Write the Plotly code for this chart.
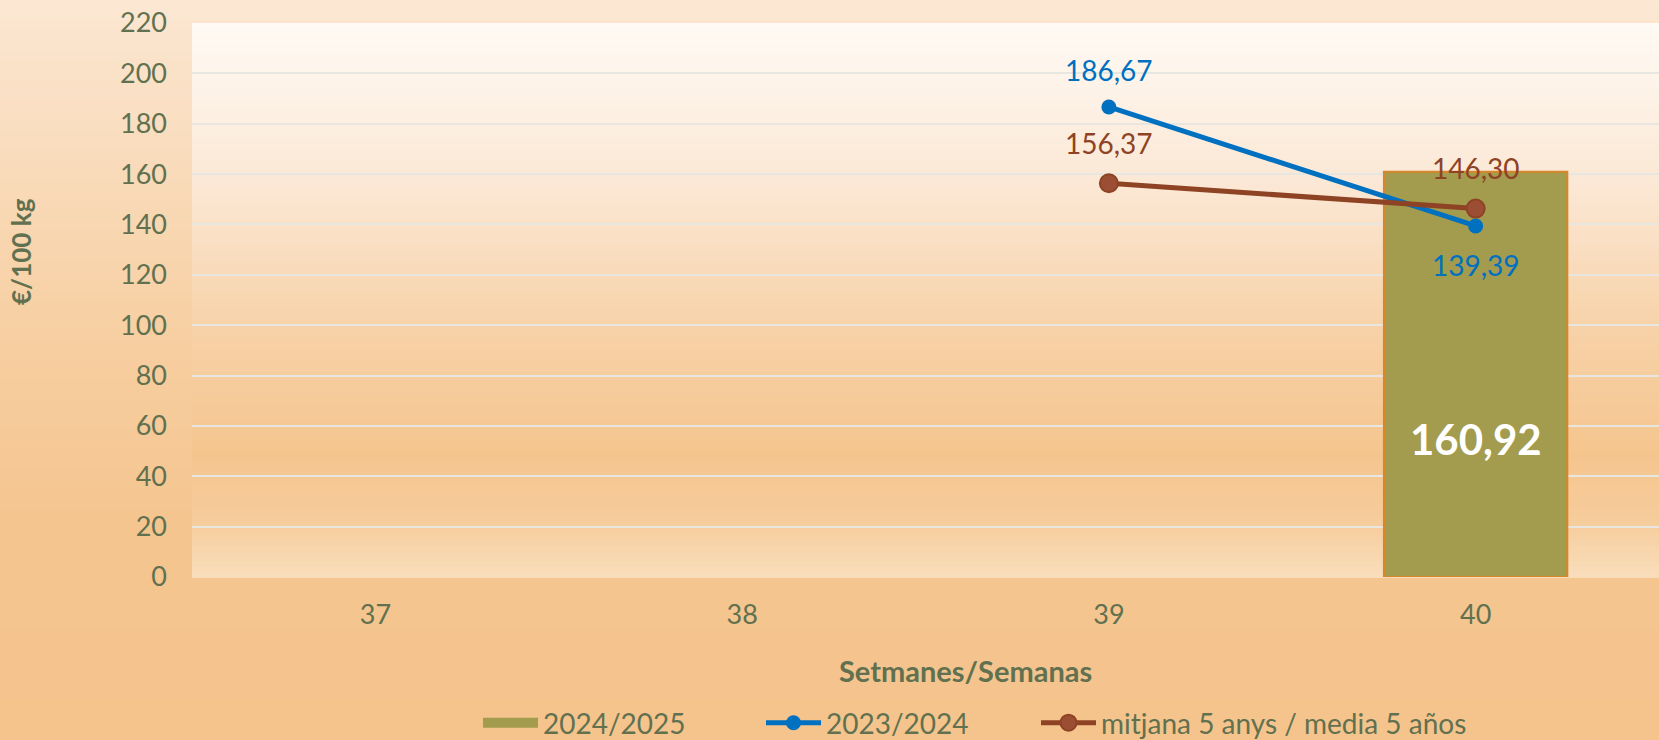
import plotly.graph_objects as go

# ---- data ----
weeks = ["37", "38", "39", "40"]
s_2024_2025 = [None, None, None, 160.92]
s_2023_2024 = [None, None, 186.67, 139.39]
s_mitjana = [None, None, 156.37, 146.30]
y_ticks = list(range(0, 221, 20))

# ---- layout constants ----
W, H = 1659, 740
ML, MR, MT, MB = 192, 0, 23, 163
PW, PH = W - ML - MR, H - MT - MB

TXT = "#617150"
BLUE = "#0070C0"
BROWN = "#8E4324"
OLIVE = "#A39B4D"
FONT = "Lato, 'Open Sans', sans-serif"


def hex2rgb(h):
    h = h.lstrip("#")
    return tuple(int(h[i:i + 2], 16) for i in (0, 2, 4))


def interp(stops, t):
    for (t0, c0), (t1, c1) in zip(stops, stops[1:]):
        if t0 <= t <= t1:
            f = 0 if t1 == t0 else (t - t0) / (t1 - t0)
            a, b = hex2rgb(c0), hex2rgb(c1)
            return "rgb(%d,%d,%d)" % tuple(round(a[i] + (b[i] - a[i]) * f) for i in range(3))
    return stops[-1][1]


def px2x(px):
    return (px - ML) / PW


def px2y(py):
    return (MT + PH - py) / PH


fmt = lambda v: f"{v:.2f}".replace(".", ",")

fig = go.Figure()

fig.add_trace(go.Bar(
    x=weeks, y=s_2024_2025, name="2024/2025", width=0.5, showlegend=False,
    marker=dict(color=OLIVE, line=dict(color="#D9862A", width=2)),
    hoverinfo="skip",
))
# legend entry for the bar series (wide rectangle like the original)
fig.add_trace(go.Scatter(
    x=[None], y=[None], name="2024/2025", mode="lines", legend="legend",
    line=dict(color=OLIVE, width=17),
))
fig.add_trace(go.Scatter(
    x=weeks, y=s_2023_2024, name="2023/2024", mode="lines+markers", legend="legend2",
    line=dict(color=BLUE, width=5),
    marker=dict(color=BLUE, size=15),
))
fig.add_trace(go.Scatter(
    x=weeks, y=s_mitjana, name="mitjana 5 anys / media 5 años", mode="lines+markers",
    legend="legend3",
    line=dict(color=BROWN, width=5),
    marker=dict(color="#9B4E33", size=18, line=dict(color=BROWN, width=2)),
))

annotations = []
# line labels
for vals, color, shifts in ((s_2023_2024, BLUE, {2: 37, 3: -39}), (s_mitjana, BROWN, {2: 40, 3: 41})):
    for i, v in enumerate(vals):
        if v is None:
            continue
        annotations.append(dict(
            x=i, y=v, xref="x", yref="y", text=fmt(v), showarrow=False,
            xanchor="center", yanchor="middle",
            font=dict(family=FONT, size=28, color=color),
            yshift=shifts.get(i, 37),
        ))
# bar label
for i, v in enumerate(s_2024_2025):
    if v is None:
        continue
    annotations.append(dict(
        x=i, y=v * 0.34, xref="x", yref="y", text="<b>" + fmt(v) + "</b>",
        showarrow=False, xanchor="center", yanchor="middle",
        font=dict(family=FONT, size=42, color="white"),
    ))

# axis titles
annotations.append(dict(
    x=px2x(21), y=px2y(252), xref="paper", yref="paper",
    text="<b>€/100 kg</b>", textangle=-90, showarrow=False,
    xanchor="center", yanchor="middle",
    font=dict(family=FONT, size=26, color=TXT),
))
annotations.append(dict(
    x=px2x(965), y=px2y(670), xref="paper", yref="paper",
    text="<b>Setmanes/Semanas</b>", showarrow=False,
    xanchor="center", yanchor="middle",
    font=dict(family=FONT, size=29, color=TXT),
))

# background gradients (paper + plot area) with bands
shapes = []
paper_stops = [(0.0, "#FBE7D3"), (0.45, "#F7CFA2"), (0.7, "#F5C590"), (1.0, "#F5C48D")]
N = 74
y_top = px2y(0)
y_bot = px2y(H)
for k in range(N):
    t = (k + 0.5) / N
    y1 = y_top - (y_top - y_bot) * k / N
    y0 = y_top - (y_top - y_bot) * (k + 1) / N
    shapes.append(dict(type="rect", xref="paper", yref="paper", layer="below",
                       x0=px2x(-2), x1=px2x(W + 2), y0=y0 - 0.003, y1=y1 + 0.001,
                       fillcolor=interp(paper_stops, t), line=dict(width=0)))
plot_stops = [(0.0, "#FFFAF5"), (0.3, "#FBE7D3"), (0.55, "#F7D2A8"), (0.78, "#F5C58E"),
              (0.9, "#F6CC9C"), (1.0, "#F9DEBB")]
N2 = 110
for k in range(N2):
    t = (k + 0.5) / N2
    y1 = 1 - k / N2
    y0 = 1 - (k + 1) / N2
    shapes.append(dict(type="rect", xref="paper", yref="paper", layer="below",
                       x0=0, x1=px2x(W + 2), y0=y0 - 0.002, y1=y1,
                       fillcolor=interp(plot_stops, t), line=dict(width=0)))

leg_common = dict(orientation="h", xanchor="left", yanchor="middle",
                  y=px2y(723), font=dict(family=FONT, size=28, color=TXT),
                  bgcolor="rgba(0,0,0,0)", itemwidth=55)

fig.update_layout(
    width=W, height=H,
    margin=dict(l=ML, r=MR, t=MT, b=MB, autoexpand=False),
    paper_bgcolor="#F5C48D",
    plot_bgcolor="rgba(0,0,0,0)",
    font=dict(family=FONT, color=TXT),
    showlegend=True,
    legend=dict(leg_common, x=px2x(503 - 25)),
    legend2=dict(leg_common, x=px2x(786 - 25)),
    legend3=dict(leg_common, x=px2x(1061 - 25)),
    annotations=annotations,
    shapes=shapes,
    xaxis=dict(type="category", categoryorder="array", categoryarray=weeks,
               range=[-0.5, len(weeks) - 0.5], showgrid=False, zeroline=False,
               showline=False, ticks="", ticklabelstandoff=19,
               tickfont=dict(family=FONT, size=27, color=TXT)),
    yaxis=dict(range=[0, 220], tickvals=y_ticks, showgrid=True,
               gridcolor="#E8E6E0", gridwidth=2, zeroline=False, showline=False,
               ticks="", ticklabelstandoff=24,
               tickfont=dict(family=FONT, size=27, color=TXT)),
)

fig.write_html(
    "out.html",
    config={"displayModeBar": False},
    post_script="document.body.style.margin='0';document.body.style.overflow='hidden';",
)
